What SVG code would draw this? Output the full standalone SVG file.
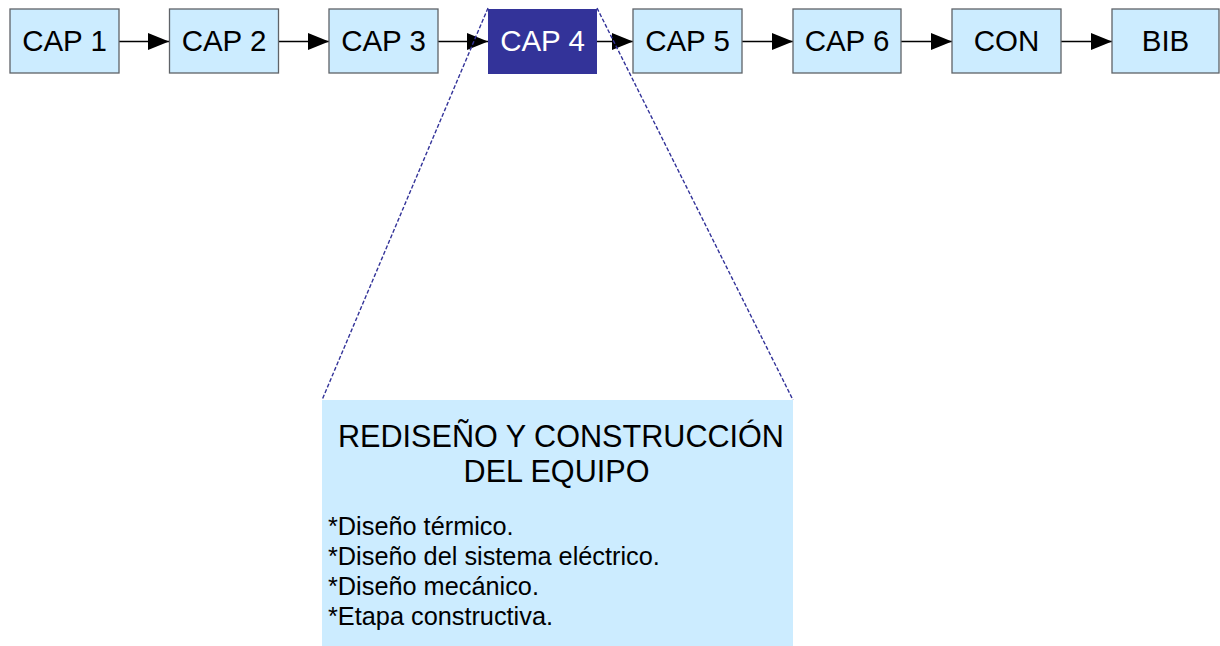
<svg xmlns="http://www.w3.org/2000/svg" width="1220" height="646" viewBox="0 0 1220 646">
<style>
.box{fill:#CCECFF;stroke:#5f6368;stroke-width:1.3}
.lbl{font-family:"Liberation Sans",Arial,sans-serif;font-size:29.5px;fill:#000;text-anchor:middle}
.conn{stroke:#000;stroke-width:1.3;fill:none}
.zoom{stroke:#333399;stroke-width:1.4;stroke-dasharray:4 2;fill:none}
.t{font-family:"Liberation Sans",Arial,sans-serif;fill:#000}
</style>
<defs>
<marker id="ah" viewBox="0 0 21 17" refX="21" refY="8.5" markerWidth="21" markerHeight="17" markerUnits="userSpaceOnUse" orient="auto">
<path d="M0,0 L21,8.5 L0,17 Z" fill="#000"/>
</marker>
</defs>
<rect width="1220" height="646" fill="#fff"/>
<g id="connectors">
<line class="conn" x1="119" y1="41.5" x2="169" y2="41.5" marker-end="url(#ah)"/>
<line class="conn" x1="278" y1="41.5" x2="329" y2="41.5" marker-end="url(#ah)"/>
<line class="conn" x1="438" y1="41.5" x2="488" y2="41.5" marker-end="url(#ah)"/>
<line class="conn" x1="597" y1="41.5" x2="633" y2="41.5" marker-end="url(#ah)"/>
<line class="conn" x1="742" y1="41.5" x2="793" y2="41.5" marker-end="url(#ah)"/>
<line class="conn" x1="901" y1="41.5" x2="952" y2="41.5" marker-end="url(#ah)"/>
<line class="conn" x1="1061" y1="41.5" x2="1112" y2="41.5" marker-end="url(#ah)"/>
</g>
<g id="cap1"><rect class="box" x="10" y="9" width="109" height="64"/><text class="lbl" x="64.5" y="51">CAP 1</text></g>
<g id="cap2"><rect class="box" x="169.5" y="9" width="109" height="64"/><text class="lbl" x="224" y="51">CAP 2</text></g>
<g id="cap3"><rect class="box" x="329" y="9" width="109" height="64"/><text class="lbl" x="383.5" y="51">CAP 3</text></g>
<g id="cap4"><rect x="488" y="9" width="109" height="65" fill="#333399"/><text class="lbl" x="542.5" y="51" style="fill:#fff">CAP 4</text></g>
<g id="cap5"><rect class="box" x="633" y="9" width="109" height="64"/><text class="lbl" x="687.5" y="51">CAP 5</text></g>
<g id="cap6"><rect class="box" x="793" y="9" width="108" height="64"/><text class="lbl" x="847" y="51">CAP 6</text></g>
<g id="con"><rect class="box" x="952" y="9" width="109" height="64"/><text class="lbl" x="1006.5" y="51">CON</text></g>
<g id="bib"><rect class="box" x="1112" y="9" width="107" height="64"/><text class="lbl" x="1165.5" y="51">BIB</text></g>
<g id="zoom-lines">
<line class="zoom" x1="488" y1="8" x2="322" y2="400"/>
<line class="zoom" x1="597" y1="8" x2="793" y2="400"/>
</g>
<g id="detail">
<rect x="322" y="400" width="471" height="246" fill="#CCECFF"/>
<text class="t" x="561" y="447" font-size="30.6" text-anchor="middle">REDISEÑO Y CONSTRUCCIÓN</text>
<text class="t" x="556.5" y="482" font-size="30.6" text-anchor="middle">DEL EQUIPO</text>
<text class="t" x="328" y="535" font-size="25.3">*Diseño térmico.</text>
<text class="t" x="328" y="565" font-size="25.3">*Diseño del sistema eléctrico.</text>
<text class="t" x="328" y="595" font-size="25.3">*Diseño mecánico.</text>
<text class="t" x="328" y="625" font-size="25.3">*Etapa constructiva.</text>
</g>
</svg>
